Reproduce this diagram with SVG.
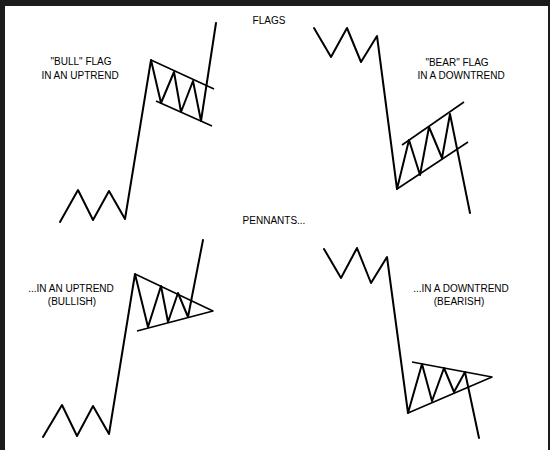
<svg xmlns="http://www.w3.org/2000/svg" width="550" height="450" viewBox="0 0 550 450">
<style>
.ln{fill:none;stroke:#000;stroke-width:2;stroke-linejoin:round;stroke-linecap:round}
.bd{stroke:#000;stroke-width:1.6;fill:none;stroke-linejoin:round}
text{font-family:"Liberation Sans",Arial,sans-serif;font-size:10px;fill:#000}
.m{text-anchor:middle}
</style>
<rect x="0" y="0" width="550" height="450" fill="#ffffff"/>
<g id="frame" fill="#1c1c1c">
<rect x="0" y="0" width="550" height="6"/>
<rect x="0" y="0" width="5" height="450"/>
<rect x="548" y="0" width="2" height="450"/>
</g>
<g id="titles">
<text x="269" y="24" class="m">FLAGS</text>
<text x="274" y="224" class="m">PENNANTS...</text>
</g>
<g id="bull-flag">
<polyline class="ln" points="60,222 78,190 93,220 109,191 125,219 151,60 161,103 174,72 181,112 193,81 201,121 216,23"/>
<line class="bd" x1="151" y1="60" x2="214" y2="89"/>
<line class="bd" x1="156" y1="101" x2="212" y2="126"/>
<text x="81" y="65" class="m">"BULL" FLAG</text>
<text x="80" y="79" class="m">IN AN UPTREND</text>
</g>
<g id="bear-flag">
<polyline class="ln" points="314,28 331,57 347,28 361,62 377,36 397,189 409,140 420,175 429,127 442,158 450,114 470,213"/>
<line class="bd" x1="402" y1="145" x2="464" y2="102"/>
<line class="bd" x1="397" y1="189" x2="468" y2="142"/>
<text x="457" y="66" class="m">"BEAR" FLAG</text>
<text x="461" y="79" class="m">IN A DOWNTREND</text>
</g>
<g id="bull-pennant">
<polyline class="ln" points="43,437 62,405 77,436 93,406 109,434 135,274 148,327 161,286 168,322 178,293 188,317 203,240"/>
<polyline class="bd" points="135,274 213,311 137,331"/>
<text x="71" y="292" class="m">...IN AN UPTREND</text>
<text x="72" y="305" class="m">(BULLISH)</text>
</g>
<g id="bear-pennant">
<polyline class="ln" points="324,249 341,278 357,248 371,283 387,257 408,413 422,364 432,401 444,368 454,392 465,372 479,438"/>
<polyline class="bd" points="412,362 492,377 408,413"/>
<text x="461" y="292" class="m">...IN A DOWNTREND</text>
<text x="459" y="305" class="m">(BEARISH)</text>
</g>
</svg>
